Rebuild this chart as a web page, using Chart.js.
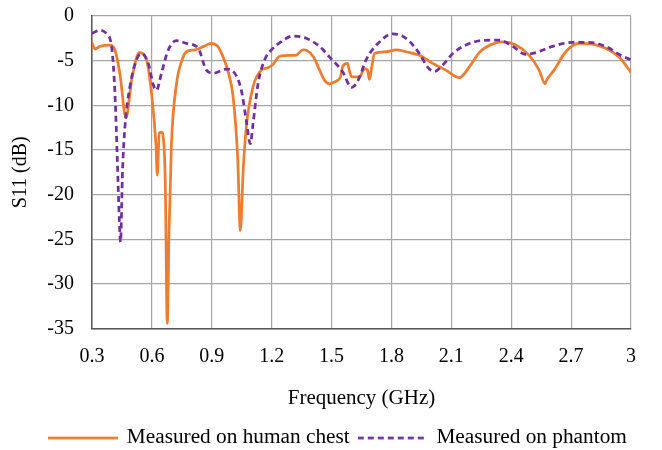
<!DOCTYPE html>
<html>
<head>
<meta charset="utf-8">
<script src="https://cdn.jsdelivr.net/npm/chart.js@4"></script>
<style>
  html, body { margin: 0; padding: 0; background: #fff; }
  #wrap { width: 662px; height: 450px; }
</style>
</head>
<body>
<div id="wrap"><canvas id="s11Chart" width="662" height="450"></canvas></div>
<script>
// ========== Data ==========
const xTickValues = [0.3, 0.6, 0.9, 1.2, 1.5, 1.8, 2.1, 2.4, 2.7, 3.0];
const xTickLabels = ['0.3', '0.6', '0.9', '1.2', '1.5', '1.8', '2.1', '2.4', '2.7', '3'];
const yTickValues = [0, -5, -10, -15, -20, -25, -30, -35];
const yTickLabels = ['0', '-5', '-10', '-15', '-20', '-25', '-30', '-35'];

const seriesNames = ['Measured on human chest', 'Measured on phantom'];

// human chest
const chestFreq = [
  0.300, 0.315, 0.340, 0.390, 0.415, 0.440, 0.470, 0.500, 0.537, 0.573,
  0.600, 0.620, 0.627, 0.637, 0.648, 0.658, 0.667, 0.677, 0.686, 0.698,
  0.724, 0.750, 0.773, 0.815, 0.860, 0.898, 0.930, 0.957, 0.985, 1.007,
  1.030, 1.043, 1.058, 1.073, 1.107, 1.148, 1.180, 1.207, 1.240, 1.290,
  1.320, 1.357, 1.380, 1.410, 1.440, 1.465, 1.490, 1.523, 1.545, 1.557,
  1.580, 1.590, 1.600, 1.640, 1.665, 1.680, 1.690, 1.700, 1.715, 1.773,
  1.823, 1.873, 1.940, 2.007, 2.073, 2.140, 2.190, 2.240, 2.273, 2.357,
  2.423, 2.490, 2.540, 2.570, 2.577, 2.615, 2.673, 2.740, 2.807, 2.873,
  2.940, 3.000
];
const chestS11 = [
  -3.0, -3.7, -3.4, -3.25, -3.8, -6.5, -11.4, -7.0, -4.1, -4.9,
  -9.0, -14.3, -17.8, -13.1, -13.0, -13.8, -18.5, -34.4, -24.0, -14.3,
  -7.5, -5.0, -4.0, -3.8, -3.4, -3.06, -3.4, -4.6, -6.5, -9.05,
  -16.0, -24.0, -17.0, -12.4, -7.9, -6.06, -5.8, -5.4, -4.5, -4.4,
  -4.4, -3.8, -3.9, -4.6, -6.06, -7.2, -7.6, -7.3, -6.8, -5.6,
  -5.3, -6.2, -6.8, -6.8, -5.9, -6.06, -7.1, -5.9, -4.2, -4.0,
  -3.8, -4.0, -4.4, -5.3, -6.06, -6.9, -5.7, -4.1, -3.5, -2.9,
  -3.25, -4.4, -6.06, -7.6, -7.2, -6.06, -4.0, -3.06, -3.15, -3.6,
  -4.6, -6.3
];

// phantom
const phantomFreq = [
  0.300, 0.340, 0.373, 0.398, 0.415, 0.427, 0.437, 0.443, 0.453, 0.465,
  0.490, 0.523, 0.548, 0.582, 0.607, 0.623, 0.648, 0.682, 0.723, 0.773,
  0.832, 0.873, 0.907, 0.973, 1.015, 1.048, 1.073, 1.093, 1.107, 1.132,
  1.165, 1.207, 1.240, 1.307, 1.373, 1.440, 1.490, 1.557, 1.600, 1.635,
  1.673, 1.740, 1.807, 1.873, 1.940, 1.982, 2.015, 2.057, 2.107, 2.173,
  2.240, 2.300, 2.340, 2.407, 2.473, 2.523, 2.607, 2.707, 2.790, 2.873,
  2.948, 3.000
];
const phantomS11 = [
  -1.95, -1.6, -2.0, -3.4, -8.7, -16.2, -22.9, -25.3, -17.3, -12.4,
  -7.9, -4.9, -4.2, -5.3, -7.7, -8.3, -6.4, -3.8, -2.77, -3.06,
  -3.6, -6.06, -6.4, -5.95, -6.4, -8.3, -11.7, -14.3, -12.0, -7.55,
  -4.9, -3.6, -3.0, -2.24, -2.5, -3.4, -4.6, -6.3, -8.0, -7.1,
  -4.9, -2.9, -2.0, -2.5, -4.2, -5.75, -6.2, -5.5, -4.2, -3.25,
  -2.77, -2.7, -2.7, -3.4, -4.3, -4.1, -3.4, -2.95, -2.95, -3.4,
  -4.4, -4.9
];

// ========== Styling ==========
const FONT = "'Liberation Serif', 'Times New Roman', serif";
const GRID_COLOR = '#a6a6a6';
const AXIS_COLOR = '#595959';
const CHEST_COLOR = '#ed7d31';
const PHANTOM_COLOR = '#7030a0';
const PHANTOM_DASH = [6, 4];
const LINE_W = 2.75;
const LEGEND_LINE_W = 70;

const toPoints = (xs, ys) => xs.map((x, i) => ({ x: x, y: ys[i] }));

// Chart.js skips borderDash for pointStyle 'line' in the legend,
// so the legend symbols are small canvases with the line style baked in
function legendSwatch(color, dash) {
  const c = document.createElement('canvas');
  c.width = LEGEND_LINE_W;
  c.height = 6;
  const g = c.getContext('2d');
  g.strokeStyle = color;
  g.lineWidth = LINE_W;
  g.setLineDash(dash);
  g.beginPath();
  g.moveTo(0, 3);
  g.lineTo(LEGEND_LINE_W, 3);
  g.stroke();
  return c;
}
const swatches = [legendSwatch(CHEST_COLOR, []), legendSwatch(PHANTOM_COLOR, PHANTOM_DASH)];

// nudge the legend row to where the reference has it
const legendShift = {
  id: 'legendShift',
  afterLayout(chart) {
    const lg = chart.legend;
    if (!lg) return;
    lg.left += 23;
    lg.right += 23;
    lg.top += 8.5;
    lg.bottom += 8.5;
  }
};

const ctx = document.getElementById('s11Chart');

new Chart(ctx, {
  type: 'line',
  data: {
    datasets: [
      {
        label: seriesNames[0],
        data: toPoints(chestFreq, chestS11),
        borderColor: CHEST_COLOR,
        backgroundColor: CHEST_COLOR,
        borderWidth: LINE_W,
        pointRadius: 0,
        cubicInterpolationMode: 'monotone',
        order: 1
      },
      {
        label: seriesNames[1],
        data: toPoints(phantomFreq, phantomS11),
        borderColor: PHANTOM_COLOR,
        backgroundColor: PHANTOM_COLOR,
        borderWidth: LINE_W,
        borderDash: PHANTOM_DASH,
        pointRadius: 0,
        cubicInterpolationMode: 'monotone',
        order: 0
      }
    ]
  },
  options: {
    responsive: false,
    animation: false,
    layout: {
      padding: { top: 0, right: 31, bottom: 0, left: 0 }
    },
    plugins: {
      tooltip: { enabled: false },
      legend: {
        position: 'bottom',
        labels: {
          usePointStyle: true,
          pointStyleWidth: 66,
          padding: 10,
          color: '#000',
          font: { family: FONT, size: 21.3 },
          sort: (a, b) => a.datasetIndex - b.datasetIndex,
          generateLabels: (chart) => {
            const items = Chart.defaults.plugins.legend.labels.generateLabels(chart);
            items.forEach(item => { item.pointStyle = swatches[item.datasetIndex]; });
            return items;
          }
        }
      }
    },
    scales: {
      x: {
        type: 'linear',
        min: 0.3,
        max: 3,
        afterBuildTicks: (scale) => {
          scale.ticks = xTickValues.map(v => ({ value: v }));
        },
        afterFit: (scale) => {
          scale.height = 80;
        },
        ticks: {
          padding: 16,
          color: '#000',
          font: { family: FONT, size: 20 },
          maxRotation: 0,
          autoSkip: false,
          callback: (value, index) => xTickLabels[index]
        },
        grid: {
          color: GRID_COLOR,
          lineWidth: 1.2,
          drawTicks: false
        },
        border: { color: AXIS_COLOR, width: 1.5 },
        title: {
          display: true,
          text: 'Frequency (GHz)',
          color: '#000',
          font: { family: FONT, size: 21 },
          padding: { top: 0, bottom: -2 }
        }
      },
      y: {
        min: -35,
        max: 0,
        afterBuildTicks: (scale) => {
          scale.ticks = yTickValues.map(v => ({ value: v }));
        },
        afterFit: (scale) => {
          scale.width = 92;
        },
        ticks: {
          // small padding keeps the top overhang small; the invisible tick
          // marks supply the rest of the gap to the axis
          padding: 4,
          color: '#000',
          font: { family: FONT, size: 20 },
          autoSkip: false,
          callback: (value, index) => yTickLabels[index]
        },
        grid: {
          color: GRID_COLOR,
          lineWidth: 1.2,
          drawTicks: true,
          tickLength: 14,
          tickColor: 'rgba(0,0,0,0)'
        },
        border: { color: AXIS_COLOR, width: 1.5 },
        title: {
          display: true,
          text: 'S11 (dB)',
          color: '#000',
          font: { family: FONT, size: 20 },
          padding: { top: 9, bottom: 0 }
        }
      }
    }
  },
  plugins: [legendShift]
});
</script>
</body>
</html>
